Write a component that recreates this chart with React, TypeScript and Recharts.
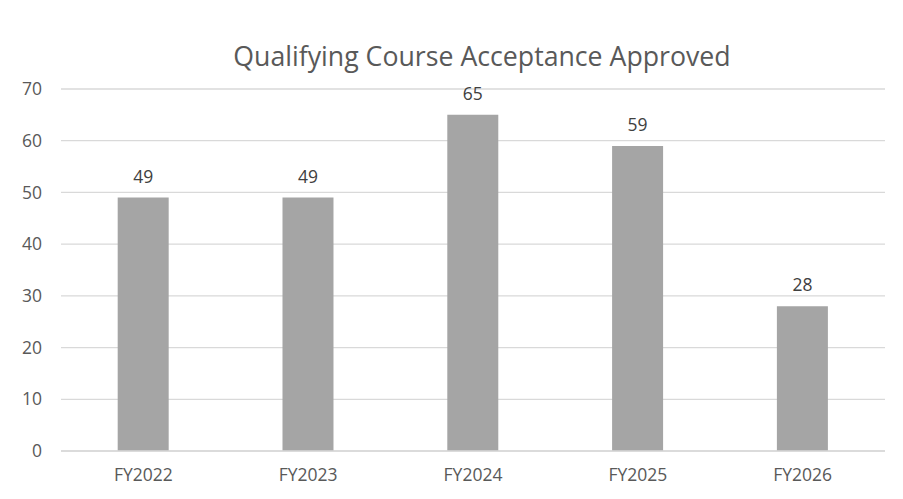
import React from "react";
import { BarChart, Bar, XAxis, YAxis, CartesianGrid, LabelList, Customized } from "recharts";

const categories = ["FY2022", "FY2023", "FY2024", "FY2025", "FY2026"];
const approved = [49, 49, 65, 59, 28];
const yTicks = [0, 10, 20, 30, 40, 50, 60, 70];
const title = "Qualifying Course Acceptance Approved";

const data = categories.map((c, i) => ({ name: c, value: approved[i] }));

const FONT = "'Open Sans', 'Noto Sans', sans-serif";

const Frame = () => (
  <g>
    <rect x={6} y={6} width={897} height={2} fill="#1a1a1a" />
    <rect x={6} y={6} width={2} height={493} fill="#1a1a1a" />
  </g>
);

export default function App() {
  return (
    <div style={{ position: "relative", width: 903, height: 499, margin: -8, background: "#fff" }}>
      <BarChart
        width={903}
        height={499}
        data={data}
        margin={{ top: 89, right: 18, bottom: 0, left: 0 }}
        barCategoryGap="34.4%"
      >
        <Customized component={Frame} />
        <text
          x={482}
          y={66}
          textAnchor="middle"
          fill="#595959"
          style={{ fontFamily: FONT, fontSize: 26.7 }}
        >
          {title}
        </text>
        <CartesianGrid vertical={false} stroke="#D9D9D9" strokeWidth={1.3} />
        <XAxis
          dataKey="name"
          height={48}
          tickLine={false}
          tickSize={0}
          tickMargin={18}
          axisLine={{ stroke: "#D9D9D9", strokeWidth: 1.3 }}
          tick={{ fill: "#595959", fontSize: 17.5, fontFamily: FONT }}
        />
        <YAxis
          width={61}
          domain={[0, 70]}
          ticks={yTicks}
          interval={0}
          axisLine={false}
          tickLine={false}
          tickSize={0}
          tickMargin={19}
          tick={{ fill: "#595959", fontSize: 17.5, fontFamily: FONT }}
        />
        <Bar dataKey="value" fill="#A5A5A5" isAnimationActive={false}>
          <LabelList
            dataKey="value"
            position="top"
            offset={15}
            fill="#404040"
            style={{ fontFamily: FONT, fontSize: 17.5 }}
          />
        </Bar>
      </BarChart>
      <div
        style={{
          position: "absolute",
          left: 6,
          top: 6,
          right: 0,
          bottom: 0,
          borderTop: "2px solid #1a1a1a",
          borderLeft: "2px solid #1a1a1a",
          pointerEvents: "none",
          zIndex: 10,
        }}
      />
    </div>
  );
}
